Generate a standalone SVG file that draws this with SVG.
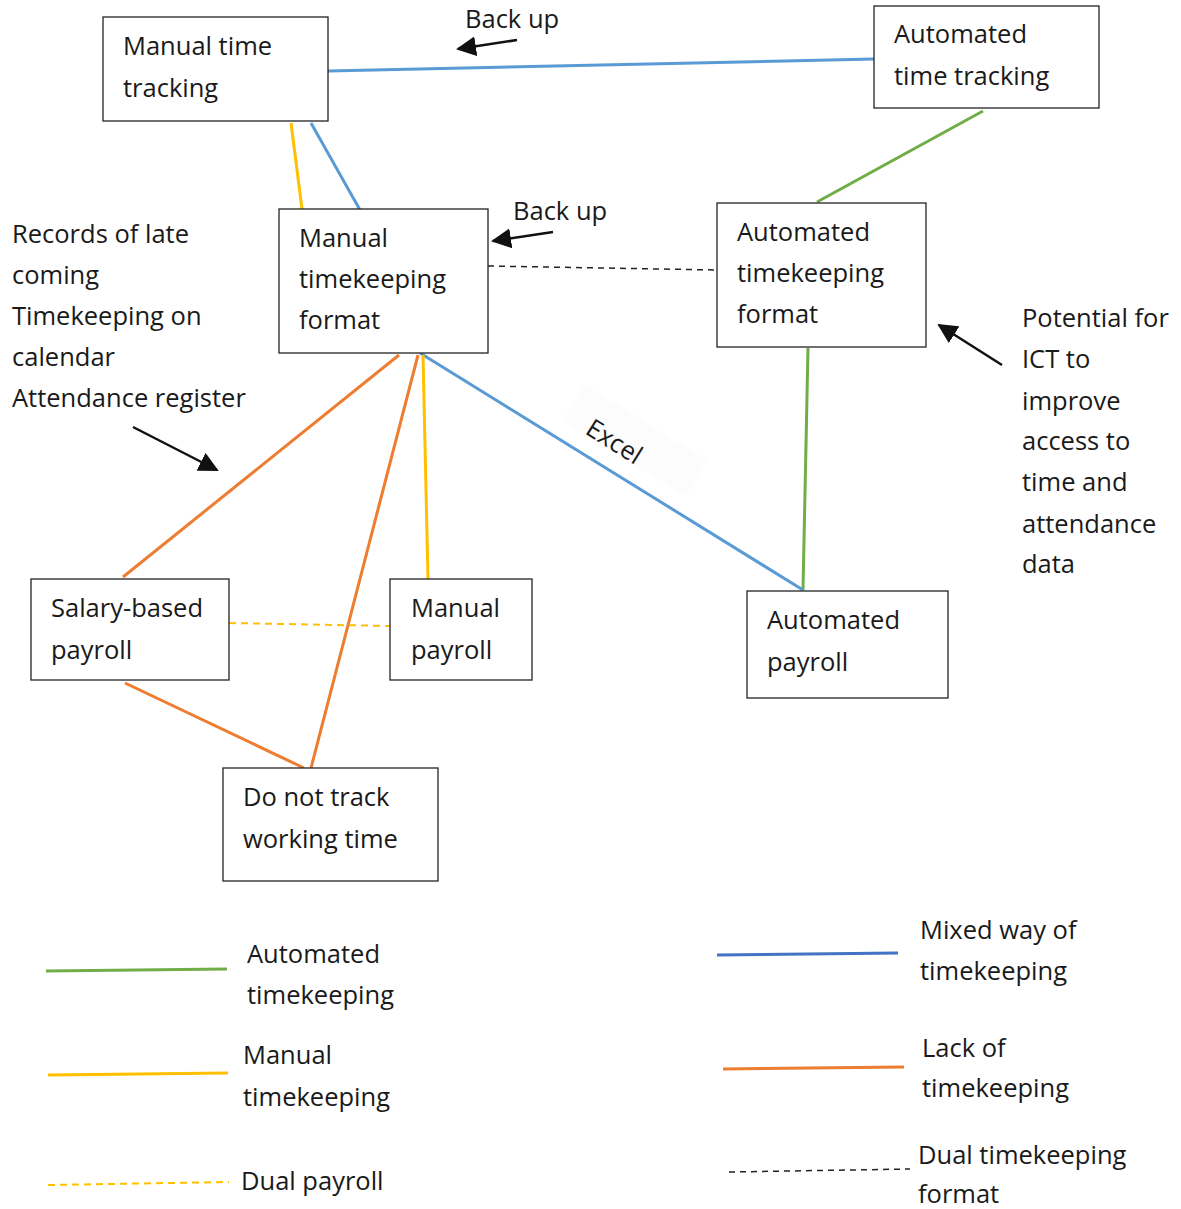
<svg xmlns="http://www.w3.org/2000/svg" width="1181" height="1209" viewBox="0 0 1181 1209">
<style>
text{font-family:"Open Sans","Noto Sans",sans-serif;font-size:25.5px;fill:#1a1a1a}
.box{fill:#fff;stroke:#222;stroke-width:1.3}
.c{fill:none;stroke-width:3}
.bl{stroke:#5B9BD5}.or{stroke:#ED7D31}.ye{stroke:#FFC000}.gr{stroke:#70AD47}.db{stroke:#4472C4}
.dk{stroke:#222;stroke-width:1.5;stroke-dasharray:6 5}
.yd{stroke:#FFC000;stroke-width:2;stroke-dasharray:7 5}
.ar{stroke:#111;stroke-width:2.5;fill:none}
</style>
<defs>
<marker id="ahb" viewBox="0 0 10 10" refX="9" refY="5" markerWidth="8" markerHeight="8" orient="auto"><path d="M0,0 L10,5 L0,10 z" fill="#111"/></marker>
</defs>
<rect width="1181" height="1209" fill="#fff"/>
<g id="connectors">
<line class="c bl" x1="328" y1="71" x2="874" y2="59"/>
<line class="c ye" x1="291" y1="123" x2="302" y2="209"/>
<line class="c bl" x1="311" y1="123" x2="360" y2="210"/>
<line class="c gr" x1="983" y1="111" x2="817" y2="202"/>
<line class="dk" x1="488" y1="266" x2="717" y2="270"/>
<line class="c gr" x1="808" y1="348" x2="803" y2="590"/>
<g transform="translate(630,448) rotate(32)"><rect x="-72" y="-30" width="144" height="42" fill="#fcfcfc"/></g>
<line class="c bl" x1="420" y1="353" x2="803" y2="590"/>
<line class="c or" x1="399" y1="355" x2="123" y2="577"/>
<line class="c or" x1="418" y1="355" x2="311" y2="768"/>
<line class="c ye" x1="423" y1="355" x2="428" y2="579"/>
<line class="yd" x1="229" y1="623" x2="390" y2="626"/>
<line class="c or" x1="125" y1="683" x2="304" y2="768"/>
<text transform="translate(584,433) rotate(32)">Excel</text>
</g>
<g id="annotations">
<line class="ar" x1="517" y1="40" x2="458" y2="49" marker-end="url(#ahb)"/>
<text x="465" y="28">Back up</text>
<line class="ar" x1="553" y1="232" x2="493" y2="241" marker-end="url(#ahb)"/>
<text x="513" y="220">Back up</text>
<line class="ar" x1="133" y1="427" x2="217" y2="470" marker-end="url(#ahb)"/>
<line class="ar" x1="1002" y1="365" x2="939" y2="325" marker-end="url(#ahb)"/>
<text x="12" y="243">Records of late</text>
<text x="12" y="284">coming</text>
<text x="12" y="325">Timekeeping on</text>
<text x="12" y="366">calendar</text>
<text x="12" y="407">Attendance register</text>
<text x="1022" y="327">Potential for</text>
<text x="1022" y="368">ICT to</text>
<text x="1022" y="410">improve</text>
<text x="1022" y="450">access to</text>
<text x="1022" y="491">time and</text>
<text x="1022" y="533">attendance</text>
<text x="1022" y="573">data</text>
</g>
<g id="n-manual-time-tracking"><rect class="box" x="103" y="17" width="225" height="104"/><text x="123" y="55">Manual time</text><text x="123" y="97">tracking</text></g>
<g id="n-automated-time-tracking"><rect class="box" x="874" y="6" width="225" height="102"/><text x="894" y="43">Automated</text><text x="894" y="85">time tracking</text></g>
<g id="n-manual-timekeeping-format"><rect class="box" x="279" y="209" width="209" height="144"/><text x="299" y="247">Manual</text><text x="299" y="288">timekeeping</text><text x="299" y="329">format</text></g>
<g id="n-automated-timekeeping-format"><rect class="box" x="717" y="203" width="209" height="144"/><text x="737" y="241">Automated</text><text x="737" y="282">timekeeping</text><text x="737" y="323">format</text></g>
<g id="n-salary-based-payroll"><rect class="box" x="31" y="579" width="198" height="101"/><text x="51" y="617">Salary-based</text><text x="51" y="659">payroll</text></g>
<g id="n-manual-payroll"><rect class="box" x="390" y="579" width="142" height="101"/><text x="411" y="617">Manual</text><text x="411" y="659">payroll</text></g>
<g id="n-automated-payroll"><rect class="box" x="747" y="591" width="201" height="107"/><text x="767" y="629">Automated</text><text x="767" y="671">payroll</text></g>
<g id="n-do-not-track"><rect class="box" x="223" y="768" width="215" height="113"/><text x="243" y="806">Do not track</text><text x="243" y="848">working time</text></g>
<g id="legend">
<line class="c gr" x1="46" y1="971" x2="227" y2="969"/>
<text x="247" y="963">Automated</text><text x="247" y="1004">timekeeping</text>
<line class="c ye" x1="48" y1="1075" x2="228" y2="1073"/>
<text x="243" y="1064">Manual</text><text x="243" y="1106">timekeeping</text>
<line class="yd" x1="48" y1="1185" x2="229" y2="1182"/>
<text x="241" y="1190">Dual payroll</text>
<line class="c db" x1="717" y1="955" x2="898" y2="953"/>
<text x="920" y="939">Mixed way of</text><text x="920" y="980">timekeeping</text>
<line class="c or" x1="723" y1="1069" x2="904" y2="1067"/>
<text x="922" y="1057">Lack of</text><text x="922" y="1097">timekeeping</text>
<line class="dk" x1="729" y1="1172" x2="910" y2="1169"/>
<text x="918" y="1164">Dual timekeeping</text><text x="918" y="1203">format</text>
</g>
</svg>
